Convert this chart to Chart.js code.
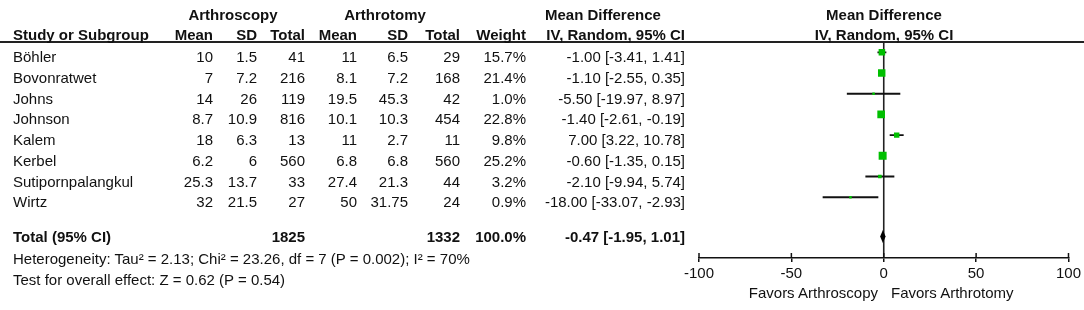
<!DOCTYPE html>
<html>
<head>
<meta charset="utf-8">
<script src="https://cdn.jsdelivr.net/npm/chart.js@4.4.1/dist/chart.umd.min.js"></script>
<style>
    body { margin: 0; background: #fff; }
    #wrap {
        position: relative;
        width: 1084px;
        height: 310px;
        font-family: Arial, "Liberation Sans", sans-serif;
        font-size: 15px;
        color: #111;
    }
    #forest { position: absolute; left: 0; top: 0; }
    .t { position: absolute; line-height: 18px; white-space: nowrap; }
    .b { font-weight: bold; }
</style>
</head>
<body>
<div id="wrap">
    <canvas id="forest" width="1084" height="310"></canvas>
</div>
<script>
// Données de la méta-analyse
const studies = ['Böhler', 'Bovonratwet', 'Johns', 'Johnson', 'Kalem', 'Kerbel', 'Sutipornpalangkul', 'Wirtz'];
const scopyMean = [10, 7, 14, 8.7, 18, 6.2, 25.3, 32];
const scopySD = [1.5, 7.2, 26, 10.9, 6.3, 6, 13.7, 21.5];
const scopyTotal = [41, 216, 119, 816, 13, 560, 33, 27];
const tomyMean = [11, 8.1, 19.5, 10.1, 11, 6.8, 27.4, 50];
const tomySD = [6.5, 7.2, 45.3, 10.3, 2.7, 6.8, 21.3, '31.75'];
const tomyTotal = [29, 168, 42, 454, 11, 560, 44, 24];
const weights = [15.7, 21.4, 1.0, 22.8, 9.8, 25.2, 3.2, 0.9];
const meanDiff = [-1.00, -1.10, -5.50, -1.40, 7.00, -0.60, -2.10, -18.00];
const ciLow = [-3.41, -2.55, -19.97, -2.61, 3.22, -1.35, -9.94, -33.07];
const ciHigh = [1.41, 0.35, 8.97, -0.19, 10.78, 0.15, 5.74, -2.93];

// Résultat global
const pooledMD = -0.47;
const pooledLow = -1.95;
const pooledHigh = 1.01;
const totalScopy = 1825;
const totalTomy = 1332;
const heterogeneityText = 'Heterogeneity: Tau² = 2.13; Chi² = 23.26, df = 7 (P = 0.002); I² = 70%';
const overallText = 'Test for overall effect: Z = 0.62 (P = 0.54)';

// Axe
const xTicks = [-100, -50, 0, 50, 100];
const favorsLeft = 'Favors Arthroscopy';
const favorsRight = 'Favors Arthrotomy';

const wrap = document.getElementById('wrap');

/**
 * Ajoute un texte positionné dans le tableau
 */
function addText(txt, x, y, align, bold) {
    const el = document.createElement('div');
    el.className = 't' + (bold ? ' b' : '');
    el.textContent = txt;
    el.style.top = (y - 9) + 'px';
    if (align === 'right') {
        el.style.right = (1084 - x) + 'px';
    } else if (align === 'center') {
        el.style.left = x + 'px';
        el.style.transform = 'translateX(-50%)';
    } else {
        el.style.left = x + 'px';
    }
    wrap.appendChild(el);
}

const fmt = v => v.toFixed(2);

// En-têtes
addText('Arthroscopy', 233, 15, 'center', true);
addText('Arthrotomy', 385, 15, 'center', true);
addText('Mean Difference', 545, 15, 'left', true);
addText('Study or Subgroup', 13, 35, 'left', true);
addText('Mean', 213, 35, 'right', true);
addText('SD', 257, 35, 'right', true);
addText('Total', 305, 35, 'right', true);
addText('Mean', 357, 35, 'right', true);
addText('SD', 408, 35, 'right', true);
addText('Total', 460, 35, 'right', true);
addText('Weight', 526, 35, 'right', true);
addText('IV, Random, 95% CI', 685, 35, 'right', true);
addText('Mean Difference', 884, 15, 'center', true);
addText('IV, Random, 95% CI', 884, 35, 'center', true);

// Lignes des études
studies.forEach((s, i) => {
    const y = 57.3 + 20.7 * i;
    addText(s, 13, y, 'left', false);
    addText(String(scopyMean[i]), 213, y, 'right', false);
    addText(String(scopySD[i]), 257, y, 'right', false);
    addText(String(scopyTotal[i]), 305, y, 'right', false);
    addText(String(tomyMean[i]), 357, y, 'right', false);
    addText(String(tomySD[i]), 408, y, 'right', false);
    addText(String(tomyTotal[i]), 460, y, 'right', false);
    addText(weights[i].toFixed(1) + '%', 526, y, 'right', false);
    addText(`${fmt(meanDiff[i])} [${fmt(ciLow[i])}, ${fmt(ciHigh[i])}]`, 685, y, 'right', false);
});

// Total et pied
addText('Total (95% CI)', 13, 237, 'left', true);
addText(String(totalScopy), 305, 237, 'right', true);
addText(String(totalTomy), 460, 237, 'right', true);
addText('100.0%', 526, 237, 'right', true);
addText(`${fmt(pooledMD)} [${fmt(pooledLow)}, ${fmt(pooledHigh)}]`, 685, 237, 'right', true);
addText(heterogeneityText, 13, 259, 'left', false);
addText(overallText, 13, 280, 'left', false);
addText(favorsLeft, 878, 293, 'right', false);
addText(favorsRight, 891, 293, 'left', false);

// Plugin: ligne d'en-tête, ligne zéro, losange et graduations
const forestPlugin = {
    id: 'forestPlugin',
    beforeDatasetsDraw(chart) {
        const { ctx, chartArea, scales } = chart;
        const x0 = scales.x.getPixelForValue(0);
        ctx.save();
        ctx.strokeStyle = '#222';
        ctx.lineWidth = 2;
        ctx.beginPath();
        ctx.moveTo(0, 42);
        ctx.lineTo(chart.width, 42);
        ctx.stroke();
        ctx.lineWidth = 1.6;
        ctx.beginPath();
        ctx.moveTo(x0, 42);
        ctx.lineTo(x0, chartArea.bottom);
        ctx.stroke();
        ctx.restore();
    },
    afterDatasetsDraw(chart) {
        const { ctx, chartArea, scales } = chart;
        const yRow = scales.y.getPixelForValue(8.9);
        const h = scales.y.getPixelForValue(8.9 + 0.31) - yRow;
        ctx.save();
        ctx.fillStyle = '#000';
        ctx.beginPath();
        ctx.moveTo(scales.x.getPixelForValue(pooledLow), yRow);
        ctx.lineTo(scales.x.getPixelForValue(pooledMD), yRow - h);
        ctx.lineTo(scales.x.getPixelForValue(pooledHigh), yRow);
        ctx.lineTo(scales.x.getPixelForValue(pooledMD), yRow + h);
        ctx.closePath();
        ctx.fill();
        // demi-graduations au-dessus de l'axe
        ctx.strokeStyle = '#111';
        ctx.lineWidth = 1.5;
        xTicks.forEach(v => {
            const px = scales.x.getPixelForValue(v);
            ctx.beginPath();
            ctx.moveTo(px, chartArea.bottom - 5);
            ctx.lineTo(px, chartArea.bottom);
            ctx.stroke();
        });
        ctx.restore();
    }
};

const ciDatasets = studies.map((s, i) => ({
    label: s,
    data: [{ x: ciLow[i], y: i }, { x: ciHigh[i], y: i }],
    showLine: true,
    borderColor: '#111',
    borderWidth: 1.9,
    pointRadius: 0,
    order: 1
}));

// Les lignes des études sont espacées de 20.7 px à partir de y = 52.3
const yMin = -0.5;
const yMax = (258 - 52.3) / 20.7;

// Côté du carré selon le poids
const markerSide = w => 1.2 + 1.35 * Math.sqrt(w);

const ctx = document.getElementById('forest').getContext('2d');
const forestChart = new Chart(ctx, {
    type: 'scatter',
    data: {
        datasets: [
            {
                label: 'Mean Difference',
                data: studies.map((s, i) => ({ x: meanDiff[i], y: i })),
                pointStyle: 'rect',
                pointRadius: c => markerSide(weights[c.dataIndex]) / Math.SQRT2,
                backgroundColor: '#00bf00',
                borderWidth: 0,
                order: 0
            },
            ...ciDatasets
        ]
    },
    options: {
        responsive: false,
        animation: false,
        layout: {
            padding: { left: 699, right: 15, top: 42, bottom: 24 }
        },
        plugins: {
            legend: { display: false },
            tooltip: { enabled: false }
        },
        scales: {
            x: {
                type: 'linear',
                min: -100,
                max: 100,
                afterBuildTicks: axis => { axis.ticks = xTicks.map(v => ({ value: v })); },
                grid: { drawOnChartArea: false, drawTicks: true, tickLength: 4, color: '#111', lineWidth: 1.5 },
                border: { display: true, color: '#111', width: 1.6 },
                ticks: {
                    color: '#111',
                    font: { family: 'Arial, "Liberation Sans", sans-serif', size: 15 },
                    padding: 3,
                    maxRotation: 0,
                    autoSkip: false
                }
            },
            y: {
                type: 'linear',
                display: false,
                reverse: true,
                min: yMin,
                max: yMax
            }
        }
    },
    plugins: [forestPlugin]
});
</script>
</body>
</html>
